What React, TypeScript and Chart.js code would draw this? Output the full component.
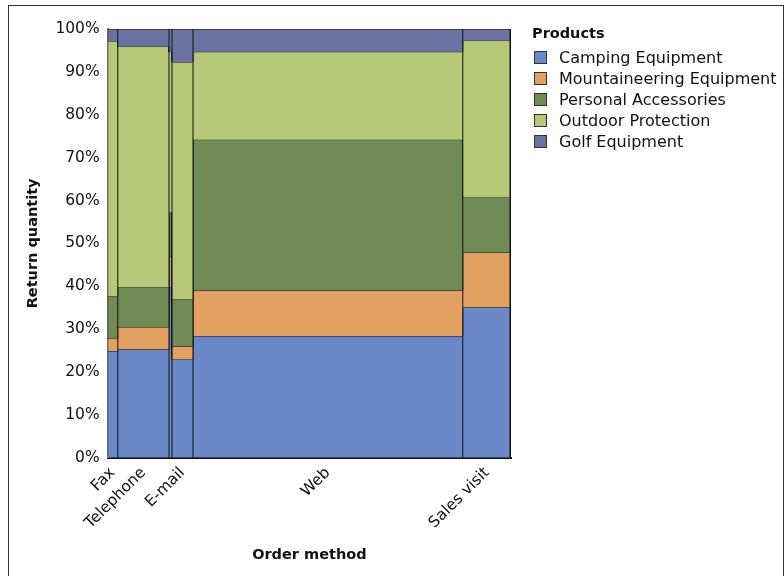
import React, { useEffect, useRef } from "react";
import { Chart, registerables } from "chart.js";

Chart.register(...registerables);

const orderMethods = ["Fax", "Telephone", "Mail", "E-mail", "Web", "Sales visit"];
const methodLabels = ["Fax", "Telephone", "", "E-mail", "Web", "Sales visit"];
// share of total return quantity per order method (column widths, %)
const methodShare = [2.5, 12.7, 0.75, 5.2, 66.9, 11.95];

const products = [
  "Camping Equipment",
  "Mountaineering Equipment",
  "Personal Accessories",
  "Outdoor Protection",
  "Golf Equipment",
];
// percent of each order method's returns per product
const campingEquipment = [24.9, 25.3, 39.8, 23.0, 28.4, 35.1];
const mountaineeringEquipment = [3.0, 5.2, 7.2, 3.0, 10.6, 12.8];
const personalAccessories = [9.8, 9.3, 10.2, 11.0, 35.2, 12.8];
const outdoorProtection = [59.5, 56.2, 37.5, 55.3, 20.5, 36.7];
const golfEquipment = [2.8, 4.0, 5.3, 7.7, 5.3, 2.6];

const productColors = ["#6b89c8", "#e2a062", "#718b55", "#b5c878", "#6a72a2"];
const yTicks = [0, 10, 20, 30, 40, 50, 60, 70, 80, 90, 100];

const FONT = "'DejaVu Sans', 'Liberation Sans', Arial, sans-serif";

export default function App() {
  const ref = useRef<HTMLCanvasElement | null>(null);

  useEffect(() => {
    if (!ref.current) return;
    const series = [
      campingEquipment,
      mountaineeringEquipment,
      personalAccessories,
      outdoorProtection,
      golfEquipment,
    ];
    const bounds: number[] = [0];
    methodShare.forEach((w, i) => bounds.push(bounds[i] + w));
    const total = bounds[bounds.length - 1];
    const normBounds = bounds.map((b) => (b / total) * 100);
    const centers = orderMethods.map((_, i) => (normBounds[i] + normBounds[i + 1]) / 2);

    const cum = orderMethods.map(() => 0);
    const datasets: any[] = series.map((vals, k) => {
      const pts: { x: number; y: number }[] = [];
      orderMethods.forEach((_, i) => {
        cum[i] += vals[i];
        const top = k === series.length - 1 ? 100 : cum[i];
        pts.push({ x: normBounds[i], y: top });
        pts.push({ x: normBounds[i + 1], y: top });
      });
      return {
        label: products[k],
        data: pts,
        backgroundColor: productColors[k],
        borderColor: "#111",
        borderWidth: 1,
        pointRadius: 0,
        fill: k === 0 ? "origin" : "-1",
        tension: 0,
        order: 5 - k,
      };
    });
    const divPts: any[] = [];
    normBounds.forEach((b) => {
      divPts.push({ x: b, y: 0 });
      divPts.push({ x: b, y: 100 });
      divPts.push({ x: b, y: null });
    });
    datasets.push({
      label: "_dividers",
      data: divPts,
      borderColor: "#111",
      borderWidth: 1,
      pointRadius: 0,
      fill: false,
      spanGaps: false,
      order: -1,
    });
    datasets.push({
      label: "_right",
      data: [
        { x: 100, y: 0 },
        { x: 100, y: 100 },
      ],
      borderColor: "#111",
      borderWidth: 3,
      pointRadius: 0,
      fill: false,
      order: -2,
    });

    const chart = new Chart(ref.current, {
      type: "line",
      data: { datasets },
      options: {
        responsive: false,
        animation: false,
        maintainAspectRatio: false,
        layout: { padding: { left: 9, top: 23, right: 272, bottom: 8 } },
        plugins: {
          tooltip: { enabled: false },
          legend: { display: false },
        },
        scales: {
          x: {
            type: "linear",
            min: 0,
            max: 100,
            afterBuildTicks: (axis: any) => {
              axis.ticks = centers.map((c) => ({ value: c }));
            },
            ticks: {
              autoSkip: false,
              minRotation: 45,
              maxRotation: 45,
              color: "#111",
              font: { family: FONT, size: 15.5 },
              padding: 2,
              callback: (v: any) => {
                const idx = centers.findIndex((c) => Math.abs(c - Number(v)) < 1e-6);
                return idx >= 0 ? methodLabels[idx] : "";
              },
            },
            grid: { display: false, drawTicks: true, tickLength: 4 },
            border: { display: true, color: "#111", width: 2 },
            title: {
              display: true,
              text: "Order method",
              color: "#111",
              font: { family: FONT, size: 14.5, weight: "bold" },
              padding: { top: 12 },
            },
          },
          y: {
            min: 0,
            max: 100,
            afterBuildTicks: (axis: any) => {
              axis.ticks = yTicks.map((v) => ({ value: v }));
            },
            ticks: {
              color: "#111",
              font: { family: FONT, size: 15.5 },
              padding: 6,
              callback: (v: any) => v + "%",
            },
            grid: { display: false, tickLength: 2 },
            border: { display: true, color: "#888", width: 2 },
            title: {
              display: true,
              text: "Return quantity",
              color: "#111",
              font: { family: FONT, size: 14.5, weight: "bold" },
              padding: { top: 7, bottom: 7 },
            },
          },
        },
      },
    });
    return () => chart.destroy();
  }, []);

  return (
    <div
      style={{
        position: "absolute",
        left: 8,
        top: 5,
        width: 776,
        height: 580,
        border: "1px solid #333",
        background: "#fff",
        boxSizing: "border-box",
      }}
    >
      <canvas ref={ref} width={774} height={570} style={{ display: "block" }} />
      <div
        style={{
          position: "absolute",
          left: 523,
          top: 17,
          fontFamily: FONT,
          color: "#111",
          fontSize: 16,
        }}
      >
        <div style={{ fontWeight: "bold", fontSize: 14.5, lineHeight: "20px", marginBottom: 4 }}>Products</div>
        {products.map((p, k) => (
          <div
            key={p}
            style={{ display: "flex", alignItems: "center", height: 21, whiteSpace: "nowrap" }}
          >
            <span
              style={{
                display: "inline-block",
                width: 11,
                height: 11,
                background: productColors[k],
                border: "1px solid #333",
                marginLeft: 2,
                marginRight: 12,
              }}
            />
            <span>{p}</span>
          </div>
        ))}
      </div>
    </div>
  );
}
